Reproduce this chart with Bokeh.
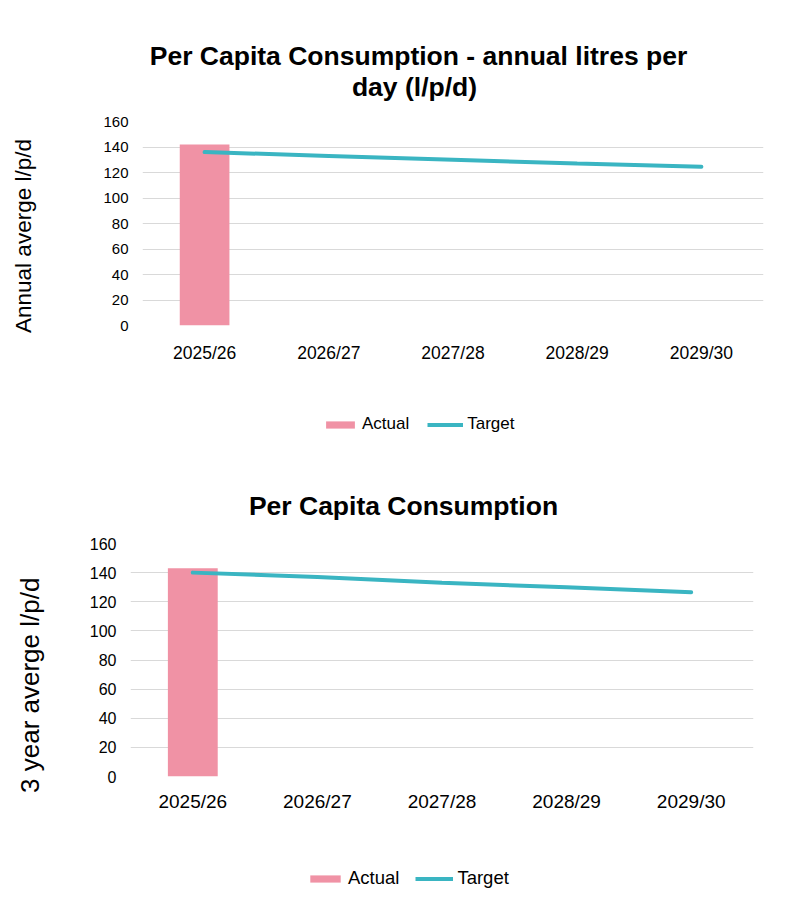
from bokeh.plotting import figure
from bokeh.models import Range1d, FixedTicker, Legend, LegendItem, Label
from bokeh.embed import file_html
from bokeh.resources import INLINE

years = ["2025/26", "2026/27", "2027/28", "2028/29", "2029/30"]
actual_years = ["2025/26"]
annual_actual = [142]
annual_target = [136, 133, 130, 127, 124.5]
three_year_actual = [143]
three_year_target = [140, 137, 133, 130, 126.5]
y_ticks = [0, 20, 40, 60, 80, 100, 120, 140, 160]
legend_labels = ["Actual", "Target"]

FONT = "Liberation Sans"
PINK = "#F092A5"
TEAL = "#3AB5C2"
GRID = "#D9D9D9"
NBSP = "\u00a0"


def blank_fig(height):
    p = figure(width=800, height=height, x_range=Range1d(0, 800), y_range=Range1d(0, height),
               output_backend="svg", toolbar_location=None, title=None,
               x_axis_location=None, y_axis_location=None, min_border=0)
    p.outline_line_color = None
    p.grid.visible = False
    return p


def title_fig(height, lines):
    p = blank_fig(height)
    for (cx, cy, txt) in lines:
        p.add_layout(Label(x=cx, y=height - cy, text=txt, text_font=FONT,
                           text_font_size="26.5px", text_font_style="bold",
                           text_align="center", text_baseline="middle",
                           text_color="#000000"))
    return p


def legend_fig(height, pos, fs, glyph_w, spacing):
    p = blank_fig(height)
    # zero-size key renderers (draw nothing themselves, only give the legend its swatches)
    bar = p.vbar(x=[0], top=[0], width=0, fill_color=PINK, line_color=None)
    ln = p.line(x=[0], y=[0], line_color=TEAL, line_width=4)
    legend = Legend(items=[LegendItem(label=legend_labels[0], renderers=[bar]),
                           LegendItem(label=legend_labels[1], renderers=[ln])],
                    location=pos, orientation="horizontal",
                    border_line_color=None, background_fill_alpha=0,
                    padding=0, margin=0, spacing=spacing, label_standoff=4,
                    glyph_width=glyph_w, glyph_height=9,
                    label_text_font=FONT, label_text_font_size=fs,
                    label_text_color="#000000")
    p.add_layout(legend, "center")
    return p


def chart_fig(height, left, right, top, bottom, actual, target, tick_fs, xtick_fs,
              xstandoff, ylabel, ylabel_fs, ylabel_standoff):
    p = figure(width=800, height=height, x_range=years, y_range=Range1d(0, 160),
               output_backend="svg", toolbar_location=None, title=None,
               min_border_left=left, min_border_right=right,
               min_border_top=top, min_border_bottom=bottom)
    p.outline_line_color = None
    p.xgrid.grid_line_color = None
    p.ygrid.grid_line_color = GRID
    p.ygrid.grid_line_width = 1
    p.yaxis.ticker = FixedTicker(ticks=y_ticks)
    for ax in (p.xaxis, p.yaxis):
        ax.axis_line_color = None
        ax.major_tick_line_color = None
        ax.minor_tick_line_color = None
        ax.major_tick_out = 0
        ax.major_tick_in = 0
        ax.major_label_text_font = FONT
        ax.major_label_text_color = "#000000"
    p.yaxis.major_label_text_font_size = tick_fs
    p.yaxis.major_label_standoff = 14
    p.xaxis.major_label_text_font_size = xtick_fs
    p.xaxis.major_label_standoff = xstandoff
    p.yaxis.axis_label = ylabel
    p.yaxis.axis_label_text_font = FONT
    p.yaxis.axis_label_text_font_size = ylabel_fs
    p.yaxis.axis_label_text_font_style = "normal"
    p.yaxis.axis_label_text_color = "#000000"
    p.yaxis.axis_label_standoff = ylabel_standoff

    p.vbar(x=actual_years, top=actual, width=0.4, fill_color=PINK, line_color=None)
    p.line(x=years, y=target, line_color=TEAL, line_width=4, line_cap="round")
    return p


# ---- top block (0..462)
t1 = title_fig(112, [(418, 55, "Per Capita Consumption - annual litres per"),
                     (414, 86, "day (l/p/d)")])
c1 = chart_fig(270, 142, 37, 9, 57, annual_actual, annual_target, "15px", "17.5px", 17,
               "Annual averge l/p/d" + NBSP * 4, "22.5px", 64)
l1 = legend_fig(80, (322, 28), "17px", 36, 18)

# ---- bottom block (462..923)
t2 = title_fig(60, [(403, 43, "Per Capita Consumption")])
c2 = chart_fig(300, 130, 47, 21, 46, three_year_actual, three_year_target, "16px", "19px", 14,
               "3 year averge l/p/d" + NBSP * 7, "26px", 42)
l2 = legend_fig(101, (306, 34), "18.5px", 38, 16)

open("out.html", "w").write(file_html([t1, c1, l1, t2, c2, l2], INLINE))
